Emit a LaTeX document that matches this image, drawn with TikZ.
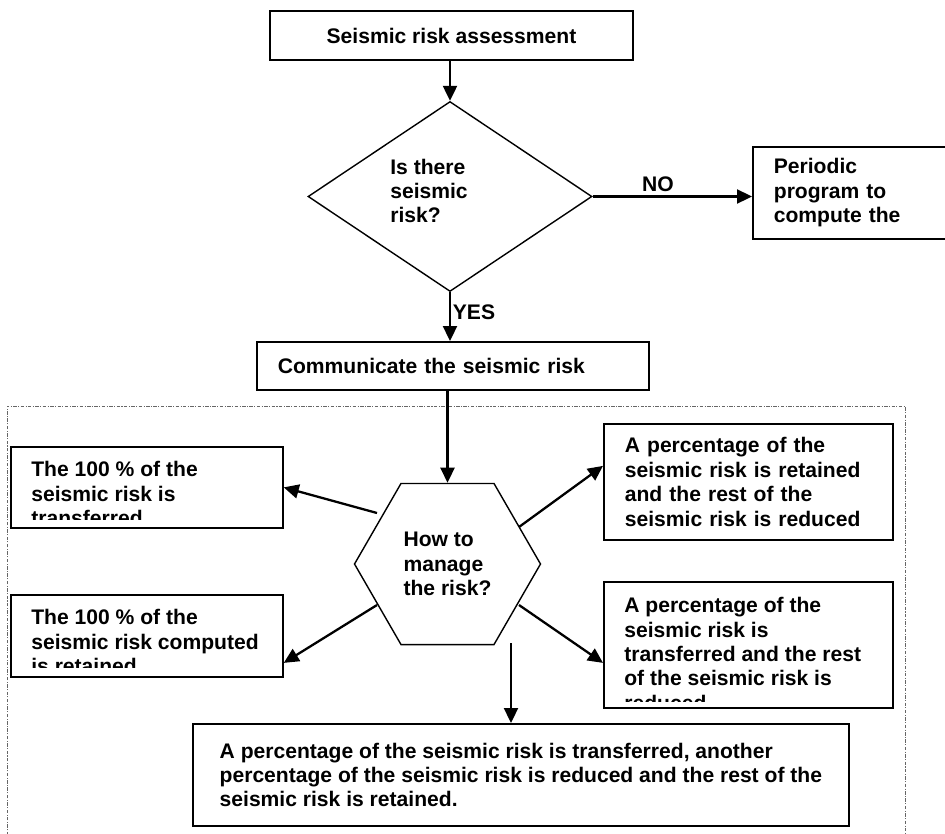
\documentclass[tikz,border=0pt]{standalone}
\usepackage{fontspec}
\setmainfont{Liberation Sans}
\usetikzlibrary{arrows.meta,shapes.geometric}

\tikzset{
  txt/.style={align=left, inner sep=0pt, font=\bfseries\fontsize{12}{13.9}\selectfont},
  flowbox/.style={txt, draw, rectangle, line width=1pt, inner ysep=0pt, inner xsep=0.42cm},
  arr/.style={line width=1.3pt, -{Triangle[length=0.3cm,width=0.28cm]}},
  frame/.style={gray!80!black, line width=0.5pt, dash pattern=on 2pt off 0.8pt on 0.6pt off 0.8pt},
}

\begin{document}
\begin{tikzpicture}
	\useasboundingbox (0,0) rectangle (18.9,-16.68);
	\clip (0,0) rectangle (18.9,-16.68);
	\fill[white] (0,0) rectangle (18.9,-16.68);

	% top of the chart
	\node[flowbox, align=center, minimum width=7.26cm, minimum height=0.98cm] (assess) at (9.03,-0.71) {Seismic risk assessment};

	\node[draw, diamond, line width=0.8pt, minimum width=5.68cm, minimum height=3.8cm, inner sep=0pt] (quest) at (9.0,-3.93) {};
	\node[txt, anchor=west] (questtext) at (7.80,-3.82) {Is there\\seismic\\risk?};

	\node[flowbox, anchor=north west, minimum height=1.84cm, text width=3.8cm] (period) at (15.04,-2.92) {Periodic\\program to\\compute the};

	\node[flowbox, anchor=north west, minimum height=0.96cm, text width=7.0cm] (comm) at (5.12,-6.82) {Communicate the seismic risk};

	\draw[arr] (assess.south -| quest.north) -- (quest.north);
	\draw[arr] (quest.east) -- node[txt, above, inner sep=2pt, pos=0.41] (no) {NO} (quest.east -| period.west);
	\draw[arr] (quest.south) -- node[txt, right, inner sep=1pt, pos=0.41] (yes) {YES} (quest.south |- comm.north);

	% the dotted frame round the options
	\draw[frame] (0.14,-17) |- (18.10,-8.12) -- (18.10,-17);

	\node[draw, regular polygon, regular polygon sides=6, minimum size=3.72cm, line width=0.8pt, txt] (manage) at (8.95,-11.28) {How to\\manage\\the risk?};
	\draw[arr] (comm.south -| manage.north) -- (manage.north);

	% left options (text cut at the bottom)
	\node[flowbox, anchor=north west, minimum width=5.44cm, minimum height=1.62cm] (transfer) at (0.20,-8.92) {};
	\begin{scope}
		\clip (transfer.north west) rectangle ([yshift=0.18cm]transfer.south east);
		\node[txt, anchor=north west] (transfertext) at ([xshift=0.42cm,yshift=-0.30cm]transfer.north west) {The 100 \% of the\\seismic risk is\\transferred};
	\end{scope}

	\node[flowbox, anchor=north west, minimum width=5.44cm, minimum height=1.64cm] (retain) at (0.20,-11.88) {};
	\begin{scope}
		\clip (retain.north west) rectangle ([yshift=0.20cm]retain.south east);
		\node[txt, anchor=north west] (retaintext) at ([xshift=0.42cm,yshift=-0.30cm]retain.north west) {The 100 \% of the\\seismic risk computed\\is retained};
	\end{scope}

	% right options
	\node[flowbox, anchor=north west, minimum height=2.32cm, text width=4.94cm] (retreduce) at (12.06,-8.46) {A percentage of the\\seismic risk is retained\\and the rest of the\\seismic risk is reduced};

	\node[flowbox, anchor=north west, minimum width=5.78cm, minimum height=2.52cm] (transreduce) at (12.06,-11.62) {};
	\begin{scope}
		\clip (transreduce.north west) rectangle ([yshift=0.14cm]transreduce.south east);
		\node[txt, anchor=north west] (transreducetext) at ([xshift=0.42cm,yshift=-0.32cm]transreduce.north west) {A percentage of the\\seismic risk is\\transferred and the rest\\of the seismic risk is\\reduced};
	\end{scope}

	\node[flowbox, anchor=north west, minimum width=13.12cm, minimum height=2.04cm] (all) at (3.84,-14.46) {A percentage of the seismic risk is transferred, another\\percentage of the seismic risk is reduced and the rest of the\\seismic risk is retained.};

	% arrows out of the hexagon
	\coordinate (ul) at (7.54,-10.26);
	\coordinate (ur) at (10.38,-10.54);
	\coordinate (ll) at (7.54,-12.10);
	\coordinate (lr) at (10.38,-12.10);
	\coordinate (dn) at (10.22,-12.86);

	\draw[arr] (ul) -- (transfer.east);
	\draw[arr] (ur) -- ([yshift=0.32cm]retreduce.west);
	\draw[arr] (ll) -- ([yshift=-0.54cm]retain.east);
	\draw[arr] (lr) -- ([yshift=-0.36cm]transreduce.west);
	\draw[arr] (dn) -- (dn |- all.north);
\end{tikzpicture}
\end{document}
